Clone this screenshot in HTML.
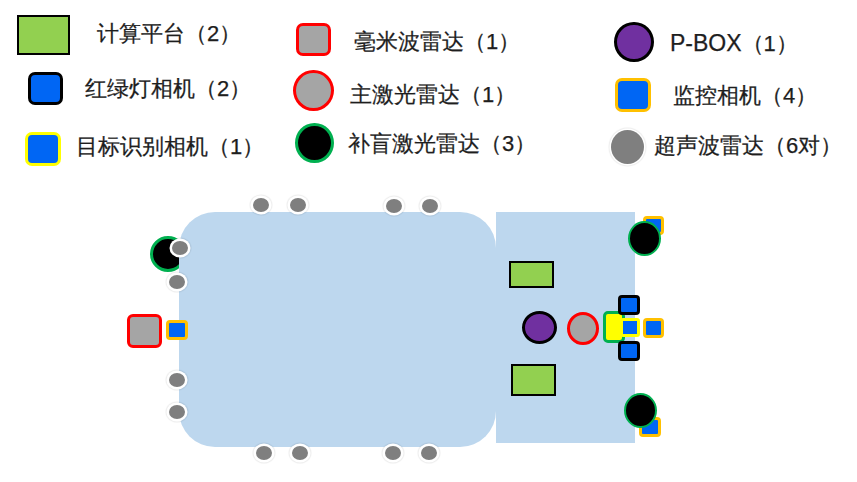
<!DOCTYPE html>
<html><head><meta charset="utf-8">
<style>
html,body{margin:0;padding:0;background:#fff;width:857px;height:482px;overflow:hidden;position:relative}
*{box-sizing:border-box}
.a{position:absolute}
.t{position:absolute;font-family:"Liberation Sans",sans-serif;font-size:22px;line-height:22px;color:#1e1e1e;white-space:nowrap;-webkit-text-stroke:0.25px #1e1e1e}
.blue{background:#0066F4}
.sen{position:absolute;width:16px;height:14px;border-radius:50%;background:#7F7F7F;box-shadow:0 0 0 2.5px #fff,0 0 1px 3.5px rgba(0,0,0,0.07)}
</style></head><body>
<!-- legend -->
<div class="a" style="left:17px;top:15px;width:53px;height:40px;background:#92D050;border:2.5px solid #000"></div>
<div class="t" id="t1" style="left:97px;top:23px">计算平台（2）</div>
<div class="a blue" style="left:28px;top:72px;width:35px;height:33px;border:3px solid #000;border-radius:7px"></div>
<div class="t" id="t2" style="left:85px;top:78px">红绿灯相机（2）</div>
<div class="a blue" style="left:25px;top:132px;width:36px;height:34px;border:3.5px solid #FFFF00;border-radius:7px"></div>
<div class="t" id="t3" style="left:76px;top:135.5px">目标识别相机（1）</div>

<div class="a" style="left:296px;top:22.5px;width:35px;height:33px;background:#A5A5A5;border:3.5px solid #FF0000;border-radius:7px"></div>
<div class="t" id="t4" style="left:354px;top:31px">毫米波雷达（1）</div>
<div class="a" style="left:293px;top:70px;width:40.5px;height:41px;background:#A5A5A5;border:3.5px solid #FF0000;border-radius:50%"></div>
<div class="t" id="t5" style="left:350px;top:84px">主激光雷达（1）</div>
<div class="a" style="left:295px;top:123px;width:38.5px;height:40px;background:#000;border:3px solid #00B050;border-radius:50%"></div>
<div class="t" id="t6" style="left:348px;top:132.5px">补盲激光雷达（3）</div>

<div class="a" style="left:614px;top:21.5px;width:39.5px;height:40px;background:#7030A0;border:3px solid #000;border-radius:50%"></div>
<div class="t" id="t7" style="left:670px;top:32px"><span style="font-size:23px">P-BOX</span>（1）</div>
<div class="a blue" style="left:615px;top:78px;width:35.5px;height:33.5px;border:3.5px solid #FFC000;border-radius:7px"></div>
<div class="t" id="t8" style="left:673px;top:85px">监控相机（4）</div>
<div class="a" style="left:611px;top:130px;width:33px;height:34px;background:#7F7F7F;border-radius:50%;box-shadow:0 0 0 1.5px #fff,0 0 1px 2.5px rgba(0,0,0,0.07)"></div>
<div class="t" id="t9" style="left:654px;top:135px">超声波雷达（6对）</div>

<!-- diagram -->
<div class="a" style="left:150px;top:236px;width:36px;height:36px;background:#000;border:3px solid #00B050;border-radius:50%"></div>
<div class="a" style="left:179px;top:212px;width:316.5px;height:235px;background:#BDD7EE;border-radius:36px"></div>
<div class="a" style="left:496px;top:212px;width:139px;height:230.5px;background:#BDD7EE"></div>

<div class="sen" style="left:253px;top:198px"></div>
<div class="sen" style="left:289.5px;top:198px"></div>
<div class="sen" style="left:385.5px;top:199px"></div>
<div class="sen" style="left:422px;top:199px"></div>
<div class="sen" style="left:256px;top:446px"></div>
<div class="sen" style="left:291.5px;top:446px"></div>
<div class="sen" style="left:385px;top:445.5px"></div>
<div class="sen" style="left:420.5px;top:446px"></div>
<div class="sen" style="left:171.5px;top:240.5px"></div>
<div class="sen" style="left:168.5px;top:274.5px"></div>
<div class="sen" style="left:168.8px;top:372.5px"></div>
<div class="sen" style="left:168.8px;top:405.3px"></div>

<div class="a" style="left:127px;top:314px;width:35px;height:33.5px;background:#A5A5A5;border:3.5px solid #FF0000;border-radius:6px"></div>
<div class="a blue" style="left:166px;top:320px;width:22px;height:20px;border:3px solid #FFC000;border-radius:4px"></div>

<div class="a" style="left:509px;top:261px;width:45px;height:27px;background:#92D050;border:2.5px solid #000"></div>
<div class="a" style="left:511px;top:363.5px;width:44.5px;height:32px;background:#92D050;border:2.5px solid #000"></div>
<div class="a" style="left:522px;top:311px;width:35px;height:33px;background:#7030A0;border:3px solid #000;border-radius:50%"></div>
<div class="a" style="left:566.5px;top:311.5px;width:32px;height:33px;background:#A5A5A5;border:3.5px solid #FF0000;border-radius:50%"></div>

<div class="a" style="left:602.5px;top:311px;width:22px;height:32px;background:#FFFF00;border:3px solid #00B050;border-radius:5px"></div>
<div class="a blue" style="left:620px;top:318px;width:19.5px;height:19px;border:3px solid #FFFF00;border-radius:3px"></div>
<div class="a blue" style="left:617.5px;top:295px;width:22px;height:20px;border:3px solid #000;border-radius:4px"></div>
<div class="a blue" style="left:617.5px;top:341px;width:22px;height:19.5px;border:3px solid #000;border-radius:4px"></div>
<div class="a blue" style="left:642.5px;top:318px;width:21px;height:19.5px;border:3px solid #FFC000;border-radius:4px"></div>

<div class="a blue" style="left:643px;top:216px;width:21px;height:19px;border:3px solid #FFC000;border-radius:4px"></div>
<div class="a" style="left:628px;top:221px;width:32.5px;height:35px;background:#000;border:2.8px solid #00B050;border-radius:50%"></div>
<div class="a blue" style="left:639px;top:416.5px;width:21.5px;height:20px;border:3px solid #FFC000;border-radius:4px"></div>
<div class="a" style="left:624px;top:393px;width:33px;height:35px;background:#000;border:2.8px solid #00B050;border-radius:50%"></div>
</body></html>
